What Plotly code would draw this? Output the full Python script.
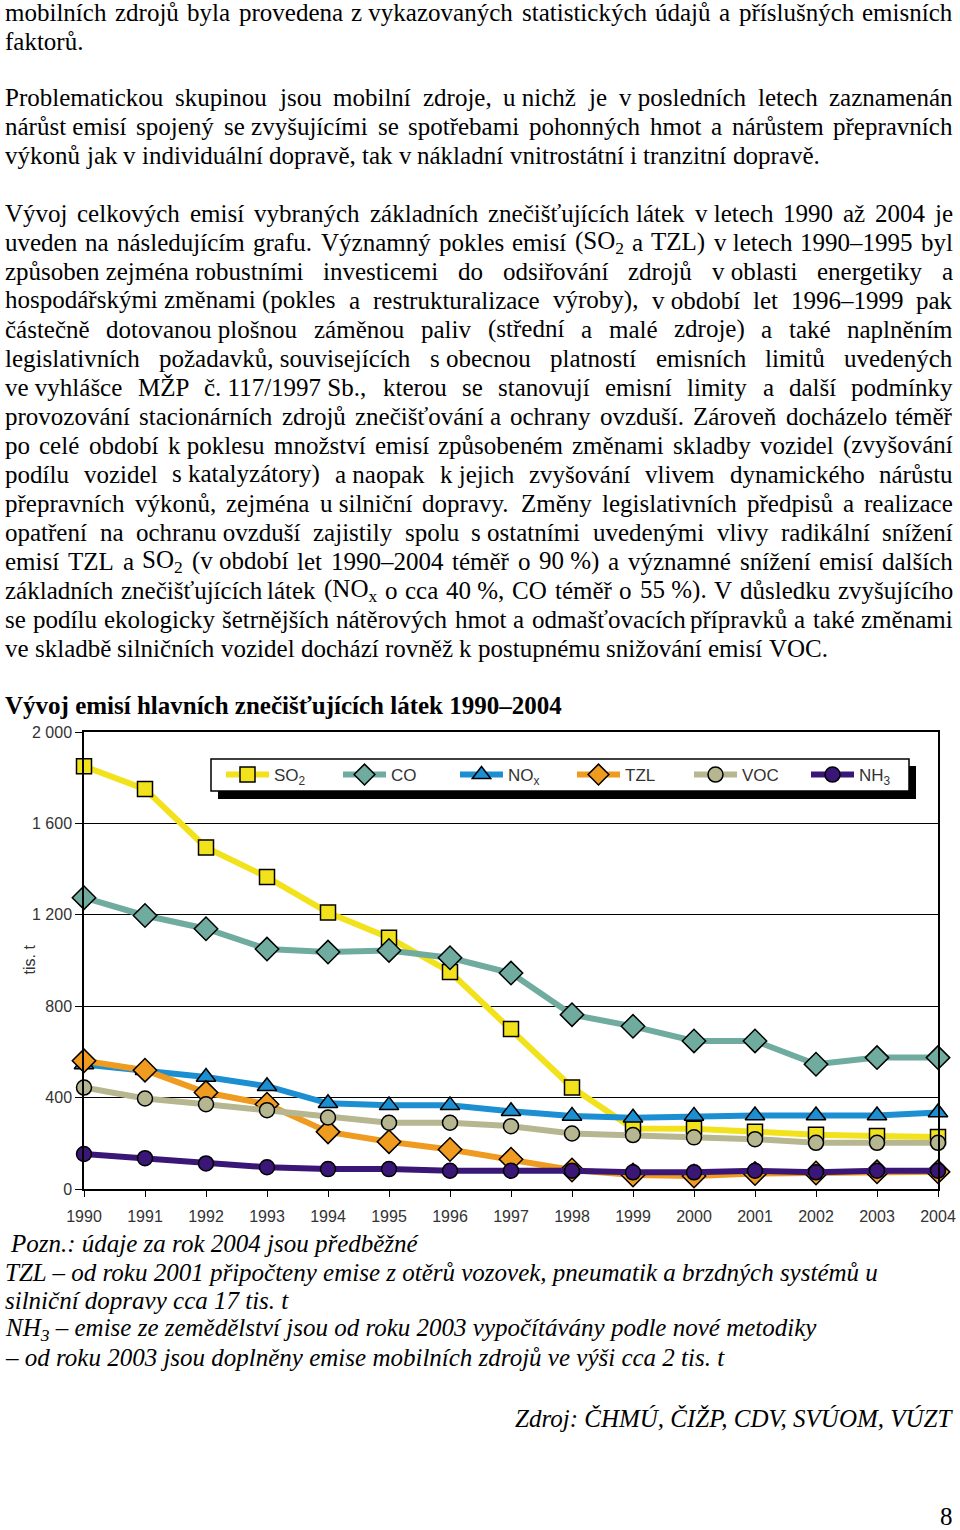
import unicodedata
import plotly.graph_objects as go

W, H = 960, 1530

years = list(range(1990, 2005))
so2 = [1850, 1750, 1495, 1365, 1210, 1100, 950, 700, 444, 265, 264, 251, 237, 232, 228]
co = [1275, 1197, 1139, 1050, 1037, 1044, 1012, 945, 763, 712, 648, 648, 546, 575, 575]
nox = [545, 520, 490, 450, 375, 366, 366, 340, 320, 312, 320, 322, 322, 322, 335]
tzl = [561, 520, 422, 371, 250, 207, 173, 130, 83, 61, 57, 68, 70, 75, 75]
voc = [444, 396, 371, 345, 313, 290, 290, 275, 243, 236, 226, 218, 202, 202, 202]
nh3 = [153, 135, 112, 95, 87, 87, 80, 80, 80, 73, 73, 80, 73, 80, 80]

series_names = ["SO<sub>2</sub>", "CO", "NO<sub>x</sub>", "TZL", "VOC", "NH<sub>3</sub>"]
series_values = [so2, co, nox, tzl, voc, nh3]
series_colors = ["#f2e21c", "#6fac9f", "#1c8fd2", "#ef9b1f", "#b6b690", "#3a1677"]
series_symbols = ["square", "diamond", "triangle-up", "diamond", "circle", "circle"]
series_sizes = [15, 18, 17, 18, 15, 15]

y_ticks = [0, 400, 800, 1200, 1600, 2000]

# text of the page (nbsp = non-stretching space)
NB = "\u00a0"
para1 = [
    ("mobilních zdrojů byla provedena z" + NB + "vykazovaných statistických údajů a příslušných emisních", True),
    ("faktorů.", False),
]
para2 = [
    ("Problematickou skupinou jsou mobilní zdroje, u" + NB + "nichž je v" + NB + "posledních letech zaznamenán", True),
    ("nárůst" + NB + "emisí spojený se" + NB + "zvyšujícími se spotřebami pohonných hmot a nárůstem přepravních", True),
    ("výkonů jak v individuální dopravě, tak v nákladní vnitrostátní i tranzitní dopravě.", False),
]
para3 = [
    ("Vývoj celkových emisí vybraných základních znečišťujících látek v" + NB + "letech 1990 až 2004 je", True),
    ("uveden na následujícím grafu. Významný pokles emisí (SO₂ a TZL) v" + NB + "letech 1990–1995 byl", True),
    ("způsoben" + NB + "zejména" + NB + "robustními investicemi do odsiřování zdrojů v" + NB + "oblasti energetiky a", True),
    ("hospodářskými" + NB + "změnami" + NB + "(pokles a restrukturalizace výroby), v" + NB + "období let 1996–1999 pak", True),
    ("částečně dotovanou" + NB + "plošnou záměnou paliv (střední a malé zdroje) a také naplněním", True),
    ("legislativních požadavků," + NB + "souvisejících s" + NB + "obecnou platností emisních limitů uvedených", True),
    ("ve" + NB + "vyhlášce MŽP č." + NB + "117/1997" + NB + "Sb., kterou se stanovují emisní limity a další podmínky", True),
    ("provozování stacionárních zdrojů znečišťování a ochrany ovzduší. Zároveň docházelo téměř", True),
    ("po celé období k" + NB + "poklesu množství emisí způsobeném změnami skladby vozidel (zvyšování", True),
    ("podílu vozidel s" + NB + "katalyzátory) a" + NB + "naopak k" + NB + "jejich zvyšování vlivem dynamického nárůstu", True),
    ("přepravních výkonů, zejména u" + NB + "silniční dopravy. Změny legislativních předpisů a realizace", True),
    ("opatření na ochranu" + NB + "ovzduší zajistily spolu s" + NB + "ostatními uvedenými vlivy radikální snížení", True),
    ("emisí TZL a SO₂ (v" + NB + "období let 1990–2004 téměř o 90" + NB + "%) a významné snížení emisí dalších", True),
    ("základních znečišťujících látek (NOₓ o cca 40" + NB + "%, CO téměř o 55" + NB + "%). V důsledku zvyšujícího", True),
    ("se podílu ekologicky šetrnějších nátěrových hmot a odmašťovacích přípravků a také změnami", True),
    ("ve skladbě silničních vozidel dochází rovněž k postupnému snižování emisí VOC.", False),
]
title_text = "<b>Vývoj emisí hlavních znečišťujících látek 1990–2004</b>"
notes = [
    "Pozn.: údaje za rok 2004 jsou předběžné",
    "TZL – od roku 2001 připočteny emise z otěrů vozovek, pneumatik a brzdných systémů u",
    "silniční dopravy cca 17 tis. t",
    "NH<sub>3</sub> – emise ze zemědělství jsou od roku 2003 vypočítávány podle nové metodiky",
    "– od roku 2003 jsou doplněny emise mobilních zdrojů ve výši cca 2 tis. t",
]
source_text = "Zdroj: ČHMÚ, ČIŽP, CDV, SVÚOM, VÚZT"

SERIF = "Liberation Serif"
SANS = "Liberation Sans"

# approximate Times widths (1/1000 em) for justification
TIMES = {" ": 250, NB: 250, "a": 444, "b": 500, "c": 444, "d": 500, "e": 444, "f": 333, "g": 500,
         "h": 500, "i": 278, "j": 278, "k": 500, "l": 278, "m": 778, "n": 500, "o": 500, "p": 500,
         "q": 500, "r": 333, "s": 389, "t": 278, "u": 500, "v": 500, "w": 722, "x": 500, "y": 500,
         "z": 444, "A": 722, "B": 667, "C": 667, "D": 722, "E": 611, "F": 556, "G": 722, "H": 722,
         "I": 333, "J": 389, "K": 722, "L": 611, "M": 889, "N": 722, "O": 722, "P": 556, "Q": 722,
         "R": 667, "S": 556, "T": 611, "U": 722, "V": 722, "W": 944, "X": 722, "Y": 722, "Z": 611,
         ".": 250, ",": 250, ":": 278, ";": 278, "(": 333, ")": 333, "/": 278, "%": 833,
         "–": 500, "-": 333, "ť": 326, "ď": 588, "₂": 350, "ₓ": 350}


def char_w(c):
    if c in TIMES:
        return TIMES[c]
    if c.isdigit():
        return 500
    base = unicodedata.normalize("NFD", c)[0]
    return TIMES.get(base, 500)


def word_w(word, fs):
    return sum(char_w(c) for c in word) * fs / 1000


def markup(word):
    return word.replace("₂", "<sub>2</sub>").replace("ₓ", "<sub>x</sub>")


FS = 25
LEFT, RIGHT = 5, 953
annotations = []


def px_x(x):
    return x / W


def px_y(y):
    return 1 - y / H


def text_ann(text, x, baseline, fs=FS, xanchor="left", italic=False, family=SERIF):
    font = dict(family=family, size=fs, color="black")
    if italic:
        font["style"] = "italic"
    annotations.append(dict(
        text=text, x=px_x(x), y=px_y(baseline - 0.3375 * fs), xref="paper", yref="paper",
        xanchor=xanchor, yanchor="middle", showarrow=False, borderpad=0, borderwidth=0,
        font=font,
    ))


def place_line(text, baseline, justify):
    words = text.split(" ")
    widths = [word_w(w, FS) for w in words]
    if justify and len(words) > 1:
        gap = (RIGHT - LEFT - sum(widths)) / (len(words) - 1)
    else:
        gap = 250 * FS / 1000
    x = LEFT
    for i, (w, wd) in enumerate(zip(words, widths)):
        if justify and i == len(words) - 1 and len(words) > 1:
            text_ann(markup(w), RIGHT, baseline, xanchor="right")
        else:
            text_ann(markup(w), x, baseline)
        x += wd + gap


for i, (line, just) in enumerate(para1):
    place_line(line, 21 + 29.3 * i, just)
for i, (line, just) in enumerate(para2):
    place_line(line, 105.5 + 29.3 * i, just)
for i, (line, just) in enumerate(para3):
    place_line(line, 221.5 + 29.0 * i, just)

text_ann(title_text, 5, 714)

note_baselines = [1252, 1281, 1309, 1338, 1366]
for i, note in enumerate(notes):
    text_ann(note, 10 if i == 0 else 5, note_baselines[i], italic=True)
text_ann(source_text, 953, 1427, xanchor="right", italic=True)
text_ann("8", 946, 1525, xanchor="center")

# y axis title
annotations.append(dict(
    text="tis. t", x=px_x(18), y=px_y(960), xref="paper", yref="paper", textangle=-90,
    showarrow=False, font=dict(family=SANS, size=16, color="#333"),
))

fig = go.Figure()
for name, vals, col, sym, sz in zip(series_names, series_values, series_colors,
                                    series_symbols, series_sizes):
    fig.add_trace(go.Scatter(
        x=years, y=vals, name=name, mode="lines+markers", cliponaxis=False,
        line=dict(color=col, width=6),
        marker=dict(symbol=sym, size=sz, color=col, line=dict(color="black", width=1.5)),
    ))

# legend box with shadow
shapes = [
    dict(type="rect", xref="paper", yref="paper", x0=px_x(218), x1=px_x(916),
         y0=px_y(799), y1=px_y(766), fillcolor="black", line=dict(width=0), layer="above"),
    dict(type="rect", xref="paper", yref="paper", x0=px_x(211), x1=px_x(909),
         y0=px_y(791), y1=px_y(759), fillcolor="white", line=dict(color="black", width=1.5),
         layer="above"),
]

fig.update_layout(
    template="none",
    width=W, height=H,
    margin=dict(l=0, r=0, t=0, b=0, pad=0, autoexpand=False),
    paper_bgcolor="white", plot_bgcolor="white",
    separators=", ",
    font=dict(family=SANS, size=16, color="#333"),
    showlegend=True,
    legend=dict(
        orientation="h", x=px_x(221), y=px_y(775), xanchor="left", yanchor="middle",
        bgcolor="rgba(0,0,0,0)", borderwidth=0, itemwidth=43,
        entrywidth=59, entrywidthmode="pixels",
        font=dict(family=SANS, size=17, color="#333"),
    ),
    xaxis=dict(
        domain=[84 / W, 938 / W], range=[1990, 2004], tickvals=years, automargin=False,
        showgrid=False, zeroline=False, showline=True, linecolor="black", linewidth=1.5,
        mirror=True, ticks="outside", ticklen=6, tickcolor="black", ticklabelstandoff=6,
        tickfont=dict(family=SANS, size=16, color="#333"),
    ),
    yaxis=dict(
        domain=[1 - 1189 / H, 1 - 732 / H], range=[0, 2000], tickvals=y_ticks, automargin=False,
        tickformat=",d", showgrid=True, gridcolor="black", gridwidth=1, zeroline=False,
        showline=True, linecolor="black", linewidth=1.5, mirror=True,
        ticks="outside", ticklen=7, tickcolor="black",
        tickfont=dict(family=SANS, size=16, color="#333"),
    ),
    shapes=shapes,
    annotations=annotations,
)

# page body has a default 8px margin; drop it so the figure fills the window
fig.write_html("out.html", config={"displayModeBar": False},
               post_script="document.body.style.margin='0px';")
